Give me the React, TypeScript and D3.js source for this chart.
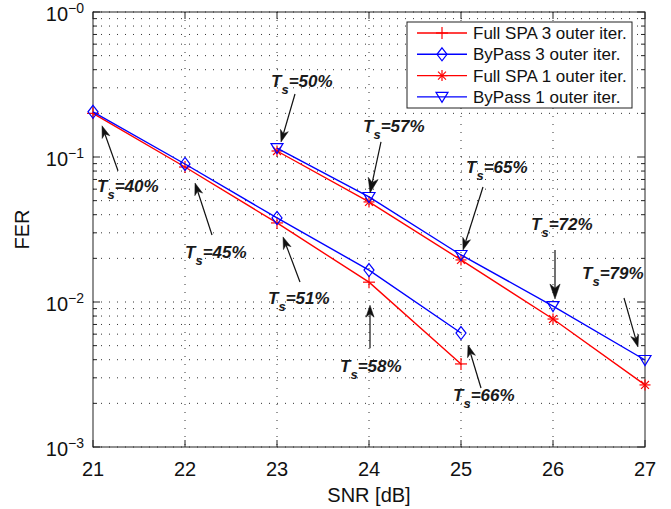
import React from "react";
import * as d3 from "d3";

// ---- data ----
const snr3 = [21, 22, 23, 24, 25];
const fullSpa3 = [0.2, 0.0853, 0.0351, 0.0137, 0.00374];
const byPass3 = [0.205, 0.0895, 0.038, 0.0166, 0.00611];
const snr1 = [23, 24, 25, 26, 27];
const fullSpa1 = [0.11, 0.049, 0.0195, 0.00763, 0.00268];
const byPass1 = [0.1153, 0.053, 0.0211, 0.00938, 0.00398];
const xTicks = [21, 22, 23, 24, 25, 26, 27];
const yExponents = [0, -1, -2, -3];
const legendLabels = [
  "Full SPA 3 outer iter.",
  "ByPass 3 outer iter.",
  "Full SPA 1 outer iter.",
  "ByPass 1 outer iter.",
];
// annotation: label percent, series key, point index
const annLabels = ["40%", "45%", "51%", "58%", "66%", "50%", "57%", "65%", "72%", "79%"];
const annSeries = ["bp3", "bp3", "bp3", "fs3", "bp3", "bp1", "bp1", "bp1", "bp1", "bp1"];
const annIndex = [0, 1, 2, 3, 4, 0, 1, 2, 3, 4];
// offsets (px) relative to the target point: tip, tail, text
const annTip = [[9, 14], [10, 19], [6, 19], [1, 23], [7, 12], [4, -6], [1, -4], [2, -5], [2, -7], [-7, -13]];
const annTail = [[25, 59], [27, 71], [23, 64], [1, 66], [20, 55], [18, -54], [12, -55], [22, -68], [2, -56], [-21, -62]];
const annText = [[4, 80], [0, 94], [-9, 86], [-29, 90], [-8, 68], [-6, -61], [-6, -65], [5, -82], [-22, -76], [-63, -81]];
const annHead = [12, 12, 12, 12, 12, 12, 15, 12, 15, 12];

const W = 671, H = 509;
const M = { left: 93, right: 645, top: 12, bottom: 447 };
const RED = "#ff0000", BLUE = "#0000ff";
const FONT = "Liberation Sans, Arial, Helvetica, sans-serif";

const x = d3.scaleLinear().domain([21, 27]).range([M.left, M.right]);
const y = d3.scaleLog().domain([1e-3, 1]).range([M.bottom, M.top]);

type Series = { key: string; xs: number[]; ys: number[]; color: string; marker: string };
const series: Series[] = [
  { key: "fs3", xs: snr3, ys: fullSpa3, color: RED, marker: "plus" },
  { key: "bp3", xs: snr3, ys: byPass3, color: BLUE, marker: "diamond" },
  { key: "fs1", xs: snr1, ys: fullSpa1, color: RED, marker: "star" },
  { key: "bp1", xs: snr1, ys: byPass1, color: BLUE, marker: "tri" },
];

function Marker({ type, cx, cy, color }: { type: string; cx: number; cy: number; color: string }) {
  const sw = 1.2;
  if (type === "plus") {
    const r = 6;
    return (
      <g stroke={color} strokeWidth={sw}>
        <line x1={cx - r} x2={cx + r} y1={cy} y2={cy} />
        <line x1={cx} x2={cx} y1={cy - r} y2={cy + r} />
      </g>
    );
  }
  if (type === "star") {
    const r = 5.5, d = r * 0.72;
    return (
      <g stroke={color} strokeWidth={sw}>
        <line x1={cx - r} x2={cx + r} y1={cy} y2={cy} />
        <line x1={cx} x2={cx} y1={cy - r} y2={cy + r} />
        <line x1={cx - d} x2={cx + d} y1={cy - d} y2={cy + d} />
        <line x1={cx - d} x2={cx + d} y1={cy + d} y2={cy - d} />
      </g>
    );
  }
  if (type === "diamond") {
    const rx = 5, ry = 6.5;
    return (
      <path
        d={`M${cx},${cy - ry}L${cx + rx},${cy}L${cx},${cy + ry}L${cx - rx},${cy}Z`}
        fill="none"
        stroke={color}
        strokeWidth={sw}
      />
    );
  }
  // triangle down
  const rx = 6;
  return (
    <path
      d={`M${cx - rx},${cy - 4.5}L${cx + rx},${cy - 4.5}L${cx},${cy + 5.5}Z`}
      fill="none"
      stroke={color}
      strokeWidth={sw}
    />
  );
}

function Arrow({ x1, y1, x2, y2, head }: { x1: number; y1: number; x2: number; y2: number; head: number }) {
  const ang = Math.atan2(y2 - y1, x2 - x1);
  const ux = Math.cos(ang), uy = Math.sin(ang);
  const px = -uy, py = ux;
  const hw = head * 0.34;
  const bx = x2 - ux * head, by = y2 - uy * head;
  const nx = x2 - ux * head * 0.72, ny = y2 - uy * head * 0.72;
  const d = `M${x2},${y2}L${bx + px * hw},${by + py * hw}L${nx},${ny}L${bx - px * hw},${by - py * hw}Z`;
  return (
    <g>
      <line x1={x1} y1={y1} x2={nx} y2={ny} stroke="#111" strokeWidth={1.2} />
      <path d={d} fill="#111" stroke="#111" strokeWidth={0.5} />
    </g>
  );
}

export default function App() {
  const line = d3
    .line<[number, number]>()
    .x((d) => x(d[0]))
    .y((d) => y(d[1]));

  // minor grid values
  const gridVals: number[] = [];
  for (let e = -3; e < 0; e++) for (let m = 1; m <= 9; m++) gridVals.push(m * Math.pow(10, e));
  gridVals.push(1);

  const seriesByKey: Record<string, Series> = {};
  series.forEach((s) => (seriesByKey[s.key] = s));

  return (
    <svg
      width={W}
      height={H}
      style={{ position: "absolute", left: 0, top: 0, background: "#fff" }}
      fontFamily={FONT}
    >
      <rect x={0} y={0} width={W} height={H} fill="#fff" />
      {/* grid */}
      <g stroke="#333" strokeWidth={1} strokeDasharray="1 7" fill="none">
        {gridVals.map((v, i) => (
          <line key={"h" + i} x1={M.left} x2={M.right} y1={y(v)} y2={y(v)} />
        ))}
        {xTicks.slice(1, -1).map((t) => (
          <line key={"v" + t} x1={x(t)} x2={x(t)} y1={M.top} y2={M.bottom} />
        ))}
      </g>
      {/* ticks */}
      <g stroke="#222" strokeWidth={1}>
        {gridVals.map((v, i) => {
          const major = Math.abs(Math.log10(v) - Math.round(Math.log10(v))) < 1e-9;
          const L = major ? 7 : 4;
          return (
            <g key={"t" + i}>
              <line x1={M.left} x2={M.left + L} y1={y(v)} y2={y(v)} />
              <line x1={M.right} x2={M.right - L} y1={y(v)} y2={y(v)} />
            </g>
          );
        })}
        {xTicks.map((t) => (
          <g key={"xt" + t}>
            <line x1={x(t)} x2={x(t)} y1={M.bottom} y2={M.bottom - 7} />
            <line x1={x(t)} x2={x(t)} y1={M.top} y2={M.top + 7} />
          </g>
        ))}
      </g>
      <rect
        x={M.left}
        y={M.top}
        width={M.right - M.left}
        height={M.bottom - M.top}
        fill="none"
        stroke="#222"
        strokeWidth={1}
      />
      {/* tick labels */}
      <g fontSize={20} fill="#111">
        {xTicks.map((t) => (
          <text key={"xl" + t} x={x(t)} y={M.bottom + 29} textAnchor="middle">
            {t}
          </text>
        ))}
        {yExponents.map((e) => (
          <text key={"yl" + e} x={M.left - 9} y={y(Math.pow(10, e)) + 9} textAnchor="end">
            10
            <tspan fontSize={14} dy={-8}>
              {"\u2212" + Math.abs(e)}
            </tspan>
          </text>
        ))}
      </g>
      <text x={(M.left + M.right) / 2} y={M.bottom + 55} textAnchor="middle" fontSize={20} fill="#111">
        SNR [dB]
      </text>
      <text
        transform={`translate(${29},${(M.top + M.bottom) / 2}) rotate(-90)`}
        textAnchor="middle"
        fontSize={20}
        fill="#111"
      >
        FER
      </text>
      {/* series */}
      {series.map((s) => {
        const pts = s.xs.map((v, i) => [v, s.ys[i]] as [number, number]);
        return (
          <g key={s.key}>
            <path d={line(pts) || ""} fill="none" stroke={s.color} strokeWidth={1.4} />
            {pts.map((p, i) => (
              <Marker key={i} type={s.marker} cx={x(p[0])} cy={y(p[1])} color={s.color} />
            ))}
          </g>
        );
      })}
      {/* annotations */}
      {annLabels.map((lab, i) => {
        const s = seriesByKey[annSeries[i]];
        const px = x(s.xs[annIndex[i]]);
        const py = y(s.ys[annIndex[i]]);
        const tx = px + annText[i][0];
        const ty = py + annText[i][1];
        return (
          <g key={"a" + i}>
            <Arrow
              x1={px + annTail[i][0]}
              y1={py + annTail[i][1]}
              x2={px + annTip[i][0]}
              y2={py + annTip[i][1]}
              head={annHead[i]}
            />
            <text x={tx} y={ty} fontSize={17} fontWeight="bold" fontStyle="italic" fill="#1a1a1a">
              T
              <tspan fontSize={13} dy={7}>
                s
              </tspan>
              <tspan dy={-7}>{"=" + lab}</tspan>
            </text>
          </g>
        );
      })}
      {/* legend */}
      <g>
        <rect x={407} y={22} width={225} height={86} fill="#fff" stroke="#222" strokeWidth={1} />
        {series.map((s, i) => {
          const cy = 33 + i * 21.3;
          return (
            <g key={"lg" + i}>
              <line x1={417} x2={467} y1={cy} y2={cy} stroke={s.color} strokeWidth={1.4} />
              <Marker type={s.marker} cx={442} cy={cy} color={s.color} />
              <text x={473} y={cy + 6} fontSize={17} fill="#111">
                {legendLabels[i]}
              </text>
            </g>
          );
        })}
      </g>
    </svg>
  );
}
